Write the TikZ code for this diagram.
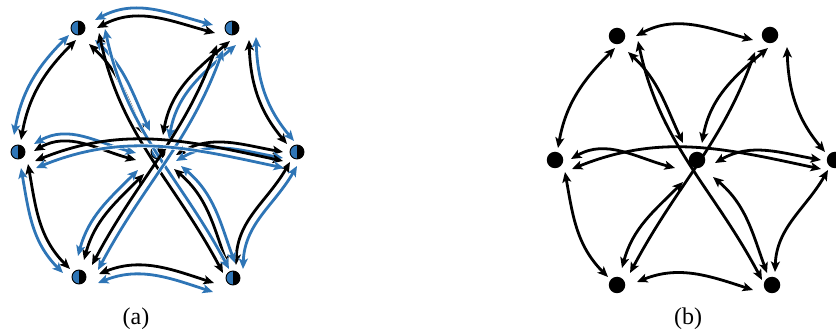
\documentclass[tikz,border=0pt]{standalone}
\usepackage{fontspec}
\setmainfont{Liberation Serif}
\usetikzlibrary{arrows.meta,calc}
\definecolor{nblue}{HTML}{2E75B6}
\newif\ifwithblue
\def\pf{a}
\tikzset{
  tip/.tip={Stealth[length=10.5pt,width=9pt,inset=2.5pt]},
  conn/.style={line width=2.8pt, draw=black, tip-tip},
  bconn/.style={line width=2.8pt, draw=nblue, tip-tip, preaction={draw=white, line width=4.2pt}},
  dotb/.style={circle, fill=black, minimum size=16.5pt, inner sep=0pt},
  dota/.style={circle, draw=black, line width=0.9pt, fill=black, minimum size=14pt, inner sep=0pt,
    path picture={\fill[nblue] (path picture bounding box.south west) rectangle (path picture bounding box.north);}},
  lab/.style={font=\fontsize{24}{28}\selectfont, anchor=base, inner sep=0pt},
}
% #1 from, #2 from offset, #3 to, #4 to offset, #5 out, #6 in, #7 blue shift
\newcommand\ed[7]{%
  \draw[conn] ($(\pf#1)+(#2)$) to[out=#5,in=#6] ($(\pf#3)+(#4)$);
  \ifwithblue
  \draw[bconn] ($(\pf#1)+(#2)+(#7)$) to[out=#5,in=#6] ($(\pf#3)+(#4)+(#7)$);
  \fi}
\newcommand\alledges{%
  \ed{TL}{19,0}{TR}{-17,-5}{28}{165}{-2,8}
  \ed{BL}{20,3}{BR}{-19,-5}{22}{162}{-1,-9}
  \ed{TL}{-2,-12}{L}{3,12}{-135}{80}{-7,5}
  \ed{L}{10,-12}{BL}{-9,8}{-80}{135}{-7,-4}
  \ed{TR}{17,-12}{R}{-10,8}{-88}{130}{7,3}
  \ed{BR}{3,13}{R}{-7,-10}{88}{-120}{7,-4}
  \ed{TL}{11,-16}{C}{-14,17}{-43}{115}{6,4}
  \ed{TR}{-2,-13}{C}{5,17}{-140}{80}{6,-4}
  \ed{L}{16,1}{C}{-22,-8}{30}{165}{0,7}
  \ed{C}{18,-3}{R}{-14,0}{30}{170}{0,-6}
  \ed{C}{-14,-22}{BL}{5,17}{-135}{75}{-6,4}
  \ed{C}{16,-17}{BR}{-5,12}{-40}{110}{7,3}
  \ed{TL}{21,-5}{BR}{-10,5}{-78}{118}{6,4}
  \ed{TR}{-15,-17}{BL}{13,12}{-110}{62}{6,-5}
  \ed{L}{17,-9}{R}{-14,-9}{22}{168}{1,-7}
}
\begin{document}
\begin{tikzpicture}[x=1pt,y=1pt]
\useasboundingbox (0,0) rectangle (836,-331);
% panel (a)
\node[dota] (aTL) at (78,-28) {};
\node[dota] (aTR) at (232,-28) {};
\node[dota] (aL) at (18,-152) {};
\node[dota] (aC) at (158,-152) {};
\node[dota] (aR) at (297,-152) {};
\node[dota] (aBL) at (79,-277) {};
\node[dota] (aBR) at (233,-278) {};
% panel (b)
\node[dotb] (bTL) at (617,-36) {};
\node[dotb] (bTR) at (770,-35) {};
\node[dotb] (bL) at (555,-160) {};
\node[dotb] (bC) at (697,-160) {};
\node[dotb] (bR) at (835,-160) {};
\node[dotb] (bBL) at (617,-285) {};
\node[dotb] (bBR) at (772,-285) {};
\def\pf{a}\withbluetrue
\alledges
\def\pf{b}\withbluefalse
\alledges
\node[lab] (la) at (136,-325) {(a)};
\node[lab] (lb) at (688,-325) {(b)};
\end{tikzpicture}
\end{document}
